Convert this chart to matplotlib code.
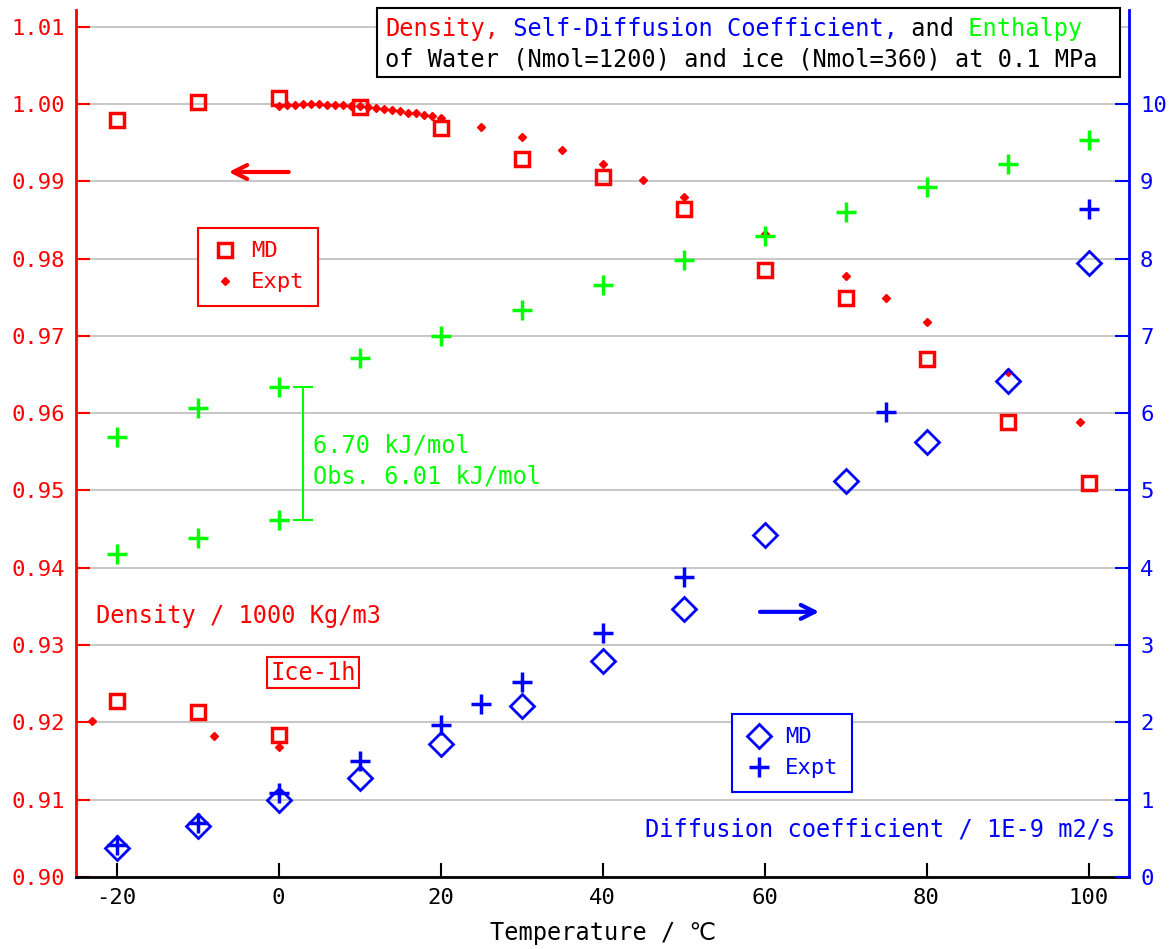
import numpy as np
import matplotlib.pyplot as plt
from matplotlib.lines import Line2D
from matplotlib.patches import Rectangle
from matplotlib.transforms import offset_copy

plt.rcParams['font.family'] = ['DejaVu Sans Mono', 'DejaVu Sans']
plt.rcParams['axes.unicode_minus'] = False

RED = '#ff0000'
BLUE = '#0000ff'
GREEN = '#00ff00'

# density (1000 kg/m3), water
t_md = [-20, -10, 0, 10, 20, 30, 40, 50, 60, 70, 80, 90, 100]
rho_md = [0.9979, 1.0003, 1.0008, 0.9996, 0.9969, 0.9929, 0.9906, 0.9864,
          0.9785, 0.9749, 0.9670, 0.9589, 0.9510]
t_expt = [0, 1, 2, 3, 4, 5, 6, 7, 8, 9, 10, 11, 12, 13, 14, 15, 16, 17, 18, 19, 20,
          25, 30, 35, 40, 45, 50, 60, 70, 75, 80, 90, 99]
rho_expt = [0.9998, 0.9999, 0.9999, 1.0000, 1.0000, 1.0000, 0.9999, 0.9999, 0.9999,
            0.9998, 0.9997, 0.9996, 0.9995, 0.9994, 0.9992, 0.9991, 0.9989, 0.9988,
            0.9986, 0.9984, 0.9982, 0.9970, 0.9957, 0.9940, 0.9922, 0.9902, 0.9880,
            0.9832, 0.9778, 0.9749, 0.9718, 0.9653, 0.9589]

# density, ice
t_ice_md = [-20, -10, 0]
rho_ice_md = [0.9228, 0.9214, 0.9184]
t_ice_expt = [-23, -8, 0]
rho_ice_expt = [0.9202, 0.9182, 0.9168]

# self-diffusion coefficient (1E-9 m2/s)
t_d_md = [-20, -10, 0, 10, 20, 30, 40, 50, 60, 70, 80, 90, 100]
d_md = [0.38, 0.66, 1.00, 1.28, 1.72, 2.21, 2.79, 3.47, 4.42, 5.12, 5.63, 6.42, 7.94]
t_d_expt = [-20, -10, 0, 10, 20, 25, 30, 40, 50, 75, 100]
d_expt = [0.41, 0.70, 1.09, 1.50, 1.97, 2.24, 2.52, 3.16, 3.88, 6.02, 8.64]

# enthalpy (kJ/mol, relative to ice at 0 C)
t_h_water = [-20, -10, 0, 10, 20, 30, 40, 50, 60, 70, 80, 90, 100]
h_water = [4.18, 5.64, 6.70, 8.16, 9.27, 10.58, 11.84, 13.10, 14.31, 15.52,
           16.78, 17.93, 19.14]
t_h_ice = [-20, -10, 0]
h_ice = [-1.71, -0.91, 0.00]

W, H = 1174, 949
fig = plt.figure(figsize=(W / 100, H / 100), dpi=100)
ax = fig.add_axes([76 / W, 1 - 877 / H, (1129 - 76) / W, (877 - 10) / H])
ax2 = ax.twinx()
ax3 = ax.twinx()

ax.set_xlim(-25, 105)
ax.set_ylim(0.90, 1.01216)
ax2.set_ylim(0, 11.216)
ax3.set_ylim(-17.985, 25.69)
ax3.axis('off')

ax.set_xticks([-20, 0, 20, 40, 60, 80, 100])
ax.set_yticks(np.arange(0.90, 1.0101, 0.01))
ax.yaxis.set_major_formatter(plt.FormatStrFormatter('%.2f'))
ax2.set_yticks(range(0, 11))
ax.yaxis.grid(True, color='#c8c8c8', lw=1.5)
ax.set_axisbelow(True)

ax.tick_params(axis='y', colors=RED, direction='in', length=10, width=1.5, labelsize=16, pad=8)
ax.tick_params(axis='x', colors='black', direction='in', length=10, width=1.5, labelsize=16, pad=8)
ax2.tick_params(axis='y', colors=BLUE, direction='in', length=10, width=1.5, labelsize=16, pad=8)

for s in ['top', 'right']:
    ax.spines[s].set_visible(False)
for s in ['top', 'left', 'bottom']:
    ax2.spines[s].set_visible(False)
ax.spines['left'].set_color(RED)
ax.spines['left'].set_linewidth(2)
ax.spines['bottom'].set_linewidth(2)
ax2.spines['right'].set_color(BLUE)
ax2.spines['right'].set_linewidth(2)

ax.set_xlabel('Temperature / ℃', fontsize=17, labelpad=9)

# enthalpy
ax3.plot(t_h_water, h_water, '+', color=GREEN, ms=14, mew=2.5, ls='none')
ax3.plot(t_h_ice, h_ice, '+', color=GREEN, ms=14, mew=2.5, ls='none')
ax3.errorbar(3.0, (h_water[2] + h_ice[2]) / 2, yerr=(h_water[2] - h_ice[2]) / 2,
             fmt='none', ecolor=GREEN, elinewidth=1.5, capsize=7, capthick=1.5)

# density
ax.plot(t_md, rho_md, 's', mfc='none', mec=RED, ms=10, mew=2.5, ls='none')
ax.plot(t_ice_md, rho_ice_md, 's', mfc='none', mec=RED, ms=10, mew=2.5, ls='none')
ax.plot(t_expt, rho_expt, 'D', color=RED, ms=4.5, ls='none')
ax.plot(t_ice_expt, rho_ice_expt, 'D', color=RED, ms=4.5, ls='none')

# diffusion
ax2.plot(t_d_md, d_md, 'D', mfc='none', mec=BLUE, ms=12, mew=2, ls='none')
ax2.plot(t_d_expt, d_expt, '+', color=BLUE, ms=14, mew=2.5, ls='none')

# labels and arrows
ax.text(4.26, 0.9538, '6.70 kJ/mol\nObs. 6.01 kJ/mol', color=GREEN, fontsize=17,
        va='center', ha='left', linespacing=1.35)
ax.text(-22.5, 0.9338, 'Density / 1000 Kg/m3', color=RED, fontsize=17, va='center')
ax.text(4.26, 0.9264, 'Ice-1h', color=RED, fontsize=17, va='center', ha='center',
        bbox=dict(boxstyle='square,pad=0.15', fc='white', ec=RED, lw=1.5))
ax.text(103.3, 0.9062, 'Diffusion coefficient / 1E-9 m2/s', color=BLUE, fontsize=17,
        va='center', ha='right')
ax.annotate('', xy=(-6.5, 0.9912), xytext=(1.6, 0.9912),
            arrowprops=dict(arrowstyle='->', color=RED, lw=3, mutation_scale=25))
ax.annotate('', xy=(67.1, 0.9343), xytext=(59.1, 0.9343),
            arrowprops=dict(arrowstyle='->', color=BLUE, lw=3, mutation_scale=25))

# legends
h1 = [Line2D([], [], marker='s', ls='none', mfc='none', mec=RED, ms=10, mew=2.5),
      Line2D([], [], marker='D', ls='none', color=RED, ms=4.5)]
leg1 = ax3.legend(h1, ['MD', 'Expt'], loc='upper left', bbox_to_anchor=(198 / W, 1 - 228 / H),
                  bbox_transform=fig.transFigure, fancybox=False, edgecolor=RED, framealpha=1,
                  fontsize=16, labelcolor=RED, handlelength=1.2, handletextpad=0.6,
                  borderaxespad=0, borderpad=0.6)
leg1.get_frame().set_linewidth(1.5)
ax3.add_artist(leg1)
h2 = [Line2D([], [], marker='D', ls='none', mfc='none', mec=BLUE, ms=12, mew=2),
      Line2D([], [], marker='+', ls='none', color=BLUE, ms=14, mew=2.5)]
leg2 = ax3.legend(h2, ['MD', 'Expt'], loc='upper left', bbox_to_anchor=(732 / W, 1 - 714 / H),
                  bbox_transform=fig.transFigure, fancybox=False, edgecolor=BLUE, framealpha=1,
                  fontsize=16, labelcolor=BLUE, handlelength=1.2, handletextpad=0.6,
                  borderaxespad=0, borderpad=0.6)
leg2.get_frame().set_linewidth(1.5)

# title box
fig.add_artist(Rectangle((377 / W, 1 - 77 / H), (1120 - 377) / W, 69 / H,
                         transform=fig.transFigure, fc='white', ec='black', lw=1.5))
cw = 0.602 * 17
pieces = [('Density,', RED), (' Self-Diffusion Coefficient,', BLUE), (' and', 'black'),
          (' Enthalpy', GREEN)]
n = 0
for txt, c in pieces:
    tr = offset_copy(fig.transFigure, fig=fig, x=n * cw, y=0, units='points')
    fig.text(385 / W, 1 - 36 / H, txt, color=c, fontsize=17, va='baseline', transform=tr)
    n += len(txt)
fig.text(385 / W, 1 - 67 / H, 'of Water (Nmol=1200) and ice (Nmol=360) at 0.1 MPa',
         color='black', fontsize=17, va='baseline')

fig.savefig('out.png', dpi=100)
